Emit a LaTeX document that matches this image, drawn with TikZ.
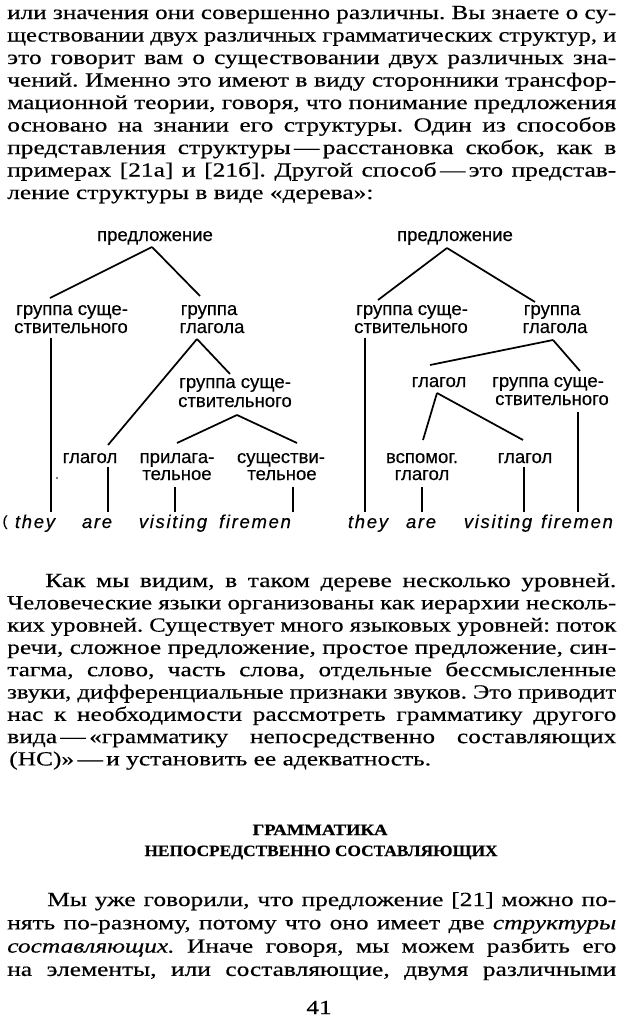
\documentclass[tikz,border=0pt]{standalone}
\usepackage{fontspec}
\usepackage{graphicx}
\setmainfont[FakeStretch=1.27,FakeBold=0.4]{Liberation Serif}
\newfontfamily\treefont[FakeBold=0.3]{Liberation Sans}
\newfontfamily\leaffont[LetterSpace=9,FakeBold=0.3]{Liberation Sans}
\newlength\jlw
\newcommand\jline[2]{\settowidth\jlw{#2}\ifdim\jlw>#1\relax\resizebox{#1}{\height}{#2}\else\makebox[#1][s]{#2}\fi}
\frenchspacing
\begin{document}
\begin{tikzpicture}[x=0.75pt,y=-0.75pt,
  body/.style={anchor=base west,inner sep=0pt,font=\fontsize{15}{16}\selectfont},
  head/.style={anchor=base,inner sep=0pt,font=\bfseries\fontsize{11.8}{14}\selectfont},
  lbl/.style={anchor=base,inner sep=0pt,font=\treefont\fontsize{13.9}{14}\selectfont},
  leaf/.style={anchor=base,inner sep=0pt,font=\leaffont\itshape\fontsize{13.9}{14}\selectfont},
  edge/.style={line width=1.3pt}]
\fill[white] (0,0) rectangle (620,1025);
\useasboundingbox (0,0) rectangle (620,1025);
\def\W{456.75pt}
% paragraph 1
\node[body] (p1a) at (7,19)    {\jline{\W}{или значения они совершенно различны. Вы знаете о су-}};
\node[body] (p1b) at (7,41.5)  {\jline{\W}{ществовании двух различных грамматических структур, и}};
\node[body] (p1c) at (7,64)    {\jline{\W}{это говорит вам о существовании двух различных зна-}};
\node[body] (p1d) at (7,86.5)  {\jline{\W}{чений. Именно это имеют в виду сторонники трансфор-}};
\node[body] (p1e) at (7,109)   {\jline{\W}{мационной теории, говоря, что понимание предложения}};
\node[body] (p1f) at (7,131.5) {\jline{\W}{основано на знании его структуры. Один из способов}};
\node[body] (p1g) at (7,154)   {\jline{\W}{представления структуры\,—\,расстановка скобок, как в}};
\node[body] (p1h) at (7,176.5) {\jline{\W}{примерах [21а] и [21б]. Другой способ\,—\,это представ-}};
\node[body] (p1i) at (7,199)   {ление структуры в виде «дерева»:};
% left tree
\node[lbl] (L0) at (155,241) {предложение};
\node[lbl] (L1a) at (72,315) {группа суще-};
\node[lbl] (L1b) at (71,333) {ствительного};
\node[lbl] (L2a) at (209,315) {группа};
\node[lbl] (L2b) at (212,333) {глагола};
\node[lbl] (L3a) at (235,388) {группа суще-};
\node[lbl] (L3b) at (235,407) {ствительного};
\node[lbl] (L4) at (90,463) {глагол};
\node[lbl] (L5a) at (177,463) {прилага-};
\node[lbl] (L5b) at (177,480) {тельное};
\node[lbl] (L6a) at (281,463) {существи-};
\node[lbl] (L6b) at (282,480) {тельное};
\node[leaf] (La) at (35,528) {they};
\node[leaf] (Lb) at (97,528) {are};
\node[leaf] (Lc) at (173,528) {visiting};
\node[leaf] (Ld) at (255,528) {firemen};
\node[leaf,font=\leaffont\fontsize{11}{12}\selectfont] (Lp) at (5,526) {(};
\fill (57,478) circle (0.9);
\coordinate (l0b) at (152,247);
\coordinate (l1t) at (50,298);
\coordinate (l1b) at (51,338);
\coordinate (l1e) at (51,512);
\coordinate (l2t) at (200,296);
\coordinate (l2b) at (197,339);
\coordinate (l3t) at (230,374);
\coordinate (l3b) at (237,415);
\coordinate (l4t) at (108,445);
\coordinate (l4b) at (108,467);
\coordinate (l4e) at (108,512);
\coordinate (l5t) at (177,443);
\coordinate (l5b) at (175,487);
\coordinate (l5e) at (175,512);
\coordinate (l6t) at (297,443);
\coordinate (l6b) at (293,487);
\coordinate (l6e) at (293,512);
\draw[edge] (l0b) -- (l1t);
\draw[edge] (l0b) -- (l2t);
\draw[edge] (l1b) -- (l1e);
\draw[edge] (l2b) -- (l4t);
\draw[edge] (l2b) -- (l3t);
\draw[edge] (l3b) -- (l5t);
\draw[edge] (l3b) -- (l6t);
\draw[edge] (l4b) -- (l4e);
\draw[edge] (l5b) -- (l5e);
\draw[edge] (l6b) -- (l6e);
% right tree
\node[lbl] (R0) at (455,241) {предложение};
\node[lbl] (R1a) at (412,315) {группа суще-};
\node[lbl] (R1b) at (411,333) {ствительного};
\node[lbl] (R2a) at (552,315) {группа};
\node[lbl] (R2b) at (555,333) {глагола};
\node[lbl] (R3) at (439,387) {глагол};
\node[lbl] (R4a) at (548,387) {группа суще-};
\node[lbl] (R4b) at (552,405) {ствительного};
\node[lbl] (R5a) at (422,463) {вспомог.};
\node[lbl] (R5b) at (422,480) {глагол};
\node[lbl] (R6) at (525,463) {глагол};
\node[leaf] (Ra) at (368,528) {they};
\node[leaf] (Rb) at (421,528) {are};
\node[leaf] (Rc) at (498,528) {visiting};
\node[leaf] (Rd) at (577,528) {firemen};
\coordinate (r0b) at (447,248);
\coordinate (r1t) at (378,300);
\coordinate (r1b) at (365,338);
\coordinate (r1e) at (365,512);
\coordinate (r2t) at (535,302);
\coordinate (r2b) at (553,340);
\coordinate (r3t) at (430,365);
\coordinate (r3b) at (437,393);
\coordinate (r4t) at (580,371);
\coordinate (r4b) at (578,412);
\coordinate (r4e) at (578,512);
\coordinate (r5t) at (423,440);
\coordinate (r5b) at (422,487);
\coordinate (r5e) at (422,512);
\coordinate (r6t) at (523,440);
\coordinate (r6b) at (524,467);
\coordinate (r6e) at (524,512);
\draw[edge] (r0b) -- (r1t);
\draw[edge] (r0b) -- (r2t);
\draw[edge] (r1b) -- (r1e);
\draw[edge] (r2b) -- (r3t);
\draw[edge] (r2b) -- (r4t);
\draw[edge] (r3b) -- (r5t);
\draw[edge] (r3b) -- (r6t);
\draw[edge] (r4b) -- (r4e);
\draw[edge] (r5b) -- (r5e);
\draw[edge] (r6b) -- (r6e);
% paragraph 2
\node[body] (p2a) at (45,587)    {\jline{428.25pt}{Как мы видим, в таком дереве несколько уровней.}};
\node[body] (p2b) at (7,609.3)   {\jline{\W}{Человеческие языки организованы как иерархии несколь-}};
\node[body] (p2c) at (7,631.6)   {\jline{\W}{ких уровней. Существует много языковых уровней: поток}};
\node[body] (p2d) at (7,653.9)   {\jline{\W}{речи, сложное предложение, простое предложение, син-}};
\node[body] (p2e) at (7,676.2)   {\jline{\W}{тагма, слово, часть слова, отдельные бессмысленные}};
\node[body] (p2f) at (7,698.5)   {\jline{\W}{звуки, дифференциальные признаки звуков. Это приводит}};
\node[body] (p2g) at (7,720.8)   {\jline{\W}{нас к необходимости рассмотреть грамматику другого}};
\node[body] (p2h) at (7,743.1)   {\jline{\W}{вида\,—\,«грамматику непосредственно составляющих}};
\node[body] (p2i) at (9,765.4)   {(НС)»\,—\,и установить ее адекватность.};
% heading
\node[head] (h1) at (320,835) {\resizebox{101.25pt}{\height}{ГРАММАТИКА}};
\node[head] (h2) at (321,856) {\resizebox{264.75pt}{\height}{НЕПОСРЕДСТВЕННО СОСТАВЛЯЮЩИХ}};
% paragraph 3
\node[body] (p3a) at (47,906)    {\jline{426.75pt}{Мы уже говорили, что предложение [21] можно по-}};
\node[body] (p3b) at (7,929.3)   {\jline{\W}{нять по-разному, потому что оно имеет две \textit{структуры}}};
\node[body] (p3c) at (7,952.6)   {\jline{\W}{\textit{составляющих.} Иначе говоря, мы можем разбить его}};
\node[body] (p3d) at (7,975.9)   {\jline{\W}{на элементы, или составляющие, двумя различными}};
% page number
\node[body,anchor=base] (pg) at (319,1014) {41};
\end{tikzpicture}
\end{document}
